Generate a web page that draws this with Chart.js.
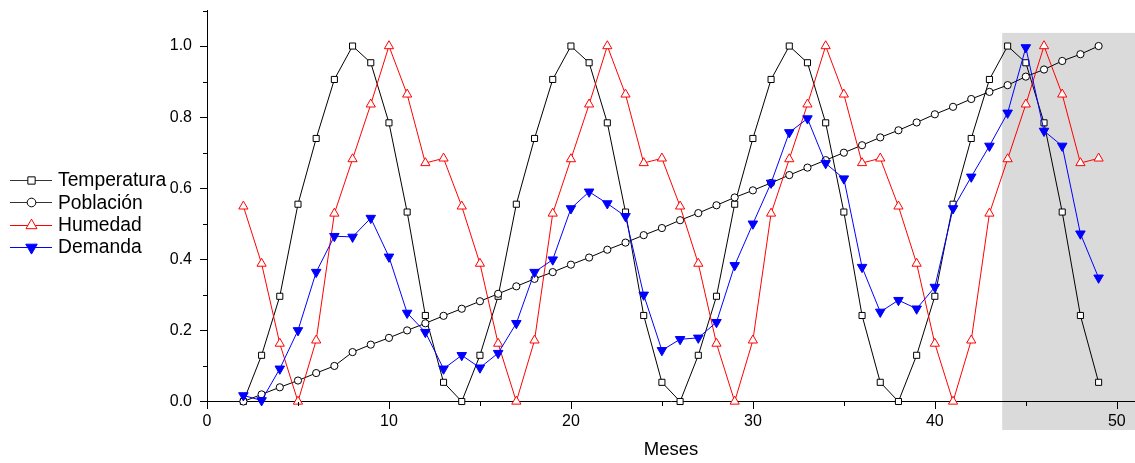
<!DOCTYPE html>
<html>
<head>
<meta charset="utf-8">
<script src="https://cdn.jsdelivr.net/npm/chart.js@4.4.1/dist/chart.umd.min.js"></script>
<style>
html,body{margin:0;padding:0;background:#fff;}
canvas{display:block;}
</style>
</head>
<body>
<canvas id="c" width="1135" height="463"></canvas>
<script>
const meses = [2,3,4,5,6,7,8,9,10,11,12,13,14,15,16,17,18,19,20,21,22,23,24,25,26,27,28,29,30,31,32,33,34,35,36,37,38,39,40,41,42,43,44,45,46,47,48,49];
const temperatura = [0.0,0.13,0.296,0.555,0.74,0.906,1.0,0.953,0.784,0.533,0.242,0.054,
  0.0,0.13,0.296,0.555,0.74,0.906,1.0,0.953,0.784,0.533,0.242,0.054,
  0.0,0.13,0.296,0.555,0.74,0.906,1.0,0.953,0.784,0.533,0.242,0.054,
  0.0,0.13,0.296,0.555,0.74,0.906,1.0,0.953,0.784,0.533,0.242,0.054];
const poblacion = [0.0,0.02,0.04,0.059,0.08,0.1,0.139,0.16,0.179,0.2,0.22,0.241,
  0.261,0.282,0.303,0.324,0.345,0.364,0.385,0.405,0.427,0.447,0.468,0.488,
  0.51,0.53,0.552,0.574,0.594,0.615,0.637,0.658,0.679,0.7,0.721,0.743,
  0.763,0.785,0.808,0.829,0.851,0.871,0.89,0.914,0.934,0.958,0.977,1.0];
const humedad = [0.549,0.388,0.163,0.0,0.172,0.529,0.682,0.836,1.0,0.864,0.671,0.684,
  0.549,0.388,0.163,0.0,0.172,0.529,0.682,0.836,1.0,0.864,0.671,0.684,
  0.549,0.388,0.163,0.0,0.172,0.529,0.682,0.836,1.0,0.864,0.671,0.684,
  0.549,0.388,0.163,0.0,0.172,0.529,0.682,0.836,1.0,0.864,0.671,0.684];
const demanda = [0.017,0.003,0.092,0.2,0.364,0.465,0.463,0.516,0.407,0.249,0.195,0.092,
  0.13,0.095,0.136,0.22,0.364,0.399,0.543,0.59,0.557,0.521,0.3,0.144,
  0.175,0.179,0.223,0.383,0.5,0.615,0.757,0.796,0.67,0.627,0.378,0.252,
  0.285,0.261,0.322,0.543,0.632,0.719,0.812,0.996,0.761,0.719,0.472,0.348];
const seriesNames = ['Temperatura','Población','Humedad','Demanda'];
const xMajorTicks = [0,10,20,30,40,50];
const xMinorTicks = [5,15,25,35,45];
const yMajorTicks = [0,0.2,0.4,0.6,0.8,1.0];
const yMinorTicks = [0.1,0.3,0.5,0.7,0.9,1.1];
const xRange = [0, 51];
const yRange = [0, 1.1];
const shadeStartX = 43.7;
const shadeTopY = 1.037;

const FONT = 'Arial, "Liberation Sans", Helvetica, sans-serif';

const styles = [
  {color:'#000000', legendLine:'#333333', pointStyle:'rect', radius:4.3, rotation:0, fill:'#ffffff'},
  {color:'#000000', legendLine:'#333333', pointStyle:'circle', radius:3.6, rotation:0, fill:'#ffffff'},
  {color:'#ff0000', legendLine:'#ff0000', pointStyle:'triangle', radius:5.3, rotation:0, fill:'#ffffff'},
  {color:'#0000ff', legendLine:'#0000ff', pointStyle:'triangle', radius:5.5, rotation:180, fill:'#0000ff'}
];
const seriesValues = [temperatura, poblacion, humedad, demanda];

const datasets = seriesValues.map((vals, i) => ({
  label: seriesNames[i],
  data: meses.map((m, j) => ({x: m, y: vals[j]})),
  borderColor: styles[i].color,
  borderWidth: 1,
  backgroundColor: styles[i].fill,
  pointStyle: styles[i].pointStyle,
  pointRadius: styles[i].radius,
  pointRotation: styles[i].rotation,
  pointBorderColor: styles[i].color,
  pointBackgroundColor: styles[i].fill,
  pointBorderWidth: 1,
  tension: 0,
  fill: false,
  clip: false,
  order: 4 - i
}));

const shadePlugin = {
  id: 'shade',
  beforeDraw(chart) {
    const {ctx, chartArea, scales} = chart;
    const x0 = scales.x.getPixelForValue(shadeStartX);
    const y0 = scales.y.getPixelForValue(shadeTopY);
    ctx.save();
    ctx.fillStyle = '#dadada';
    ctx.fillRect(x0, y0, chart.width - x0, chartArea.bottom + 28.5 - y0);
    ctx.restore();
  }
};

const tickMarkPlugin = {
  id: 'tickMarks',
  afterDraw(chart) {
    const {ctx, chartArea, scales} = chart;
    ctx.save();
    ctx.strokeStyle = '#000';
    ctx.lineWidth = 1;
    ctx.beginPath();
    const xb = Math.round(chartArea.bottom);
    xMajorTicks.forEach(v => {
      const px = Math.round(scales.x.getPixelForValue(v)) + 0.5;
      ctx.moveTo(px, xb);
      ctx.lineTo(px, xb + 7);
    });
    xMinorTicks.forEach(v => {
      const px = Math.round(scales.x.getPixelForValue(v)) + 0.5;
      ctx.moveTo(px, xb);
      ctx.lineTo(px, xb + 4);
    });
    const yl = Math.round(chartArea.left);
    yMinorTicks.forEach(v => {
      const py = Math.round(scales.y.getPixelForValue(v)) + 0.5;
      ctx.moveTo(yl, py);
      ctx.lineTo(yl - 4, py);
    });
    ctx.stroke();
    ctx.restore();
  }
};

const legendPlugin = {
  id: 'customLegend',
  afterDraw(chart) {
    const ctx = chart.ctx;
    const rowY = [180, 202.3, 224.6, 247];
    ctx.save();
    seriesNames.forEach((name, i) => {
      const y = rowY[i];
      const st = styles[i];
      ctx.strokeStyle = st.legendLine;
      ctx.lineWidth = 1;
      ctx.beginPath();
      ctx.moveTo(10, Math.round(y) + 0.5);
      ctx.lineTo(52, Math.round(y) + 0.5);
      ctx.stroke();
      ctx.fillStyle = st.fill;
      ctx.strokeStyle = st.color;
      Chart.helpers.drawPoint(ctx, {pointStyle: st.pointStyle, radius: st.radius * 1.2, rotation: st.rotation, borderWidth: 1}, 31.5, Math.round(y) + 0.5);
      ctx.fillStyle = '#000';
      ctx.font = '19.3px ' + FONT;
      ctx.textAlign = 'left';
      ctx.textBaseline = 'middle';
      ctx.fillText(name, 58, y + 1);
    });
    ctx.restore();
  }
};

new Chart(document.getElementById('c'), {
  type: 'line',
  data: {datasets},
  options: {
    responsive: false,
    animation: false,
    devicePixelRatio: 1,
    layout: {autoPadding: false, padding: {top: 10.5, right: 0, bottom: 0, left: 0}},
    plugins: {legend: {display: false}, tooltip: {enabled: false}},
    scales: {
      x: {
        type: 'linear',
        min: xRange[0], max: xRange[1],
        afterBuildTicks: a => { a.ticks = xMajorTicks.map(v => ({value: v})); },
        afterFit: s => { s.height = 61.5; s.paddingLeft = 0; s.paddingRight = 0; },
        grid: {display: true, drawOnChartArea: false, drawTicks: true, tickLength: 10, tickColor: 'rgba(0,0,0,0)', tickWidth: 1},
        border: {display: true, color: '#000', width: 1},
        ticks: {color: '#000', font: {family: FONT, size: 16}, padding: 0, maxRotation: 0, autoSkip: false,
          callback: v => String(v)},
        title: {display: true, text: 'Meses', color: '#000', font: {family: FONT, size: 18.5}, padding: {top: 0, bottom: 2}}
      },
      y: {
        type: 'linear',
        min: yRange[0], max: yRange[1],
        afterBuildTicks: a => { a.ticks = yMajorTicks.map(v => ({value: v})); },
        afterFit: s => { s.width = 207; s.paddingTop = 0; s.paddingBottom = 0; },
        grid: {display: true, drawOnChartArea: false, drawTicks: true, tickLength: 7, tickColor: '#000', tickWidth: 1},
        border: {display: true, color: '#000', width: 1},
        ticks: {color: '#000', font: {family: FONT, size: 16}, padding: 8, autoSkip: false, callback: v => Number(v).toFixed(1)}
      }
    }
  },
  plugins: [shadePlugin, tickMarkPlugin, legendPlugin]
});
</script>
</body>
</html>
